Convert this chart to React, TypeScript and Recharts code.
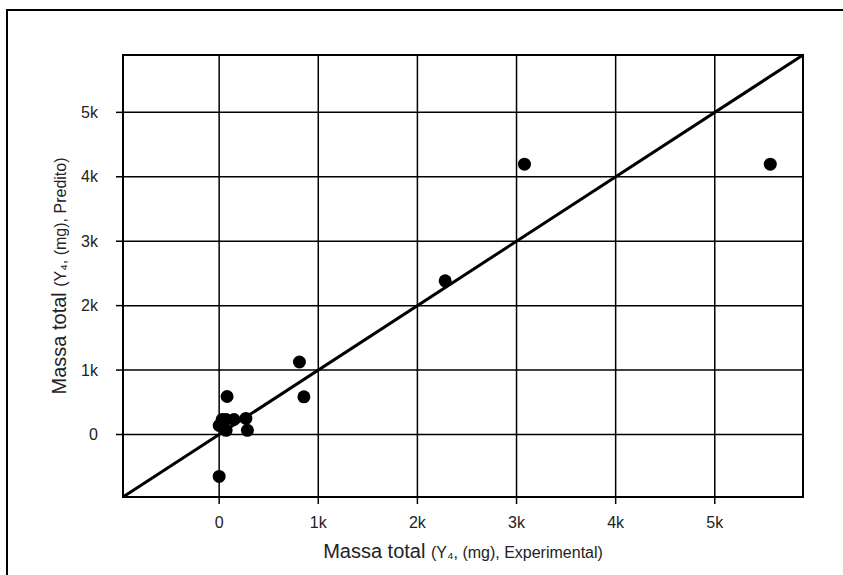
import React from "react"
import {
  CartesianGrid,
  ReferenceArea,
  ReferenceLine,
  Scatter,
  ScatterChart,
  XAxis,
  YAxis,
} from "recharts"

// experimental vs. predicted total mass (mg)
const experimental = [0, 30, 70, 150, 270, 285, 70, 80, 0, 810, 855, 2280, 3080, 5560]
const predicted = [140, 233, 233, 233, 250, 65, 65, 590, -650, 1125, 585, 2385, 4195, 4195]

const ticks = [0, 1000, 2000, 3000, 4000, 5000]
const domain: [number, number] = [-970, 5890]

const points = experimental.map((x, i) => ({ x, y: predicted[i] }))

const fmt = (v: number) => (v === 0 ? "0" : `${v / 1000}k`)

const FONT = "'Liberation Sans', Arial, sans-serif"

const Dot = (props: any) => <circle cx={props.cx} cy={props.cy} r={6.5} fill="#000" />

const XTitle = (props: any) => {
  const vb = props.viewBox
  return (
    <text x={vb.x + vb.width / 2} y={vb.y + 61} textAnchor="middle" fontFamily={FONT} fill="#222">
      <tspan fontSize={20}>Massa total </tspan>
      <tspan fontSize={16}>(Y₄, (mg), Experimental)</tspan>
    </text>
  )
}

const YTitle = (props: any) => {
  const vb = props.viewBox
  const cx = 66
  const cy = vb.y + vb.height / 2
  return (
    <text
      x={cx}
      y={cy}
      textAnchor="middle"
      fontFamily={FONT}
      fill="#222"
      transform={`rotate(-90 ${cx} ${cy})`}
    >
      <tspan fontSize={20}>Massa total </tspan>
      <tspan fontSize={16}>(Y₄, (mg), Predito)</tspan>
    </text>
  )
}

export default function App() {
  return (
    <div
      style={{
        position: "fixed",
        left: 0,
        top: 0,
        width: 843,
        height: 575,
        overflow: "hidden",
        background: "#fff",
      }}
    >
      <div
        style={{
          position: "absolute",
          left: 6,
          top: 9,
          width: 900,
          height: 700,
          borderTop: "2px solid #000",
          borderLeft: "2px solid #000",
        }}
      />
      <div style={{ position: "absolute", left: 0, top: 0 }}>
        <ScatterChart width={843} height={575} margin={{ top: 55, right: 40, bottom: 0, left: 0 }}>
          <CartesianGrid stroke="#000" strokeWidth={1.5} />
          <XAxis
            type="number"
            dataKey="x"
            domain={domain}
            ticks={ticks}
            tickFormatter={fmt}
            allowDataOverflow
            height={78}
            tickSize={7}
            tickMargin={13}
            axisLine={false}
            tickLine={{ stroke: "#000", strokeWidth: 1.5 }}
            tick={{ fill: "#222", fontSize: 16, fontFamily: FONT }}
            label={<XTitle />}
          />
          <YAxis
            type="number"
            dataKey="y"
            domain={domain}
            ticks={ticks}
            tickFormatter={fmt}
            allowDataOverflow
            width={123}
            tickSize={7}
            tickMargin={18}
            axisLine={false}
            tickLine={{ stroke: "#000", strokeWidth: 1.5 }}
            tick={{ fill: "#222", fontSize: 16, fontFamily: FONT }}
            label={<YTitle />}
          />
          <ReferenceArea
            x1={domain[0]}
            x2={domain[1]}
            y1={domain[0]}
            y2={domain[1]}
            fill="none"
            stroke="#000"
            strokeWidth={2}
          />
          <ReferenceLine
            segment={[
              { x: domain[0], y: domain[0] },
              { x: domain[1], y: domain[1] },
            ]}
            stroke="#000"
            strokeWidth={3}
          />
          <Scatter data={points} shape={<Dot />} isAnimationActive={false} />
        </ScatterChart>
      </div>
    </div>
  )
}
